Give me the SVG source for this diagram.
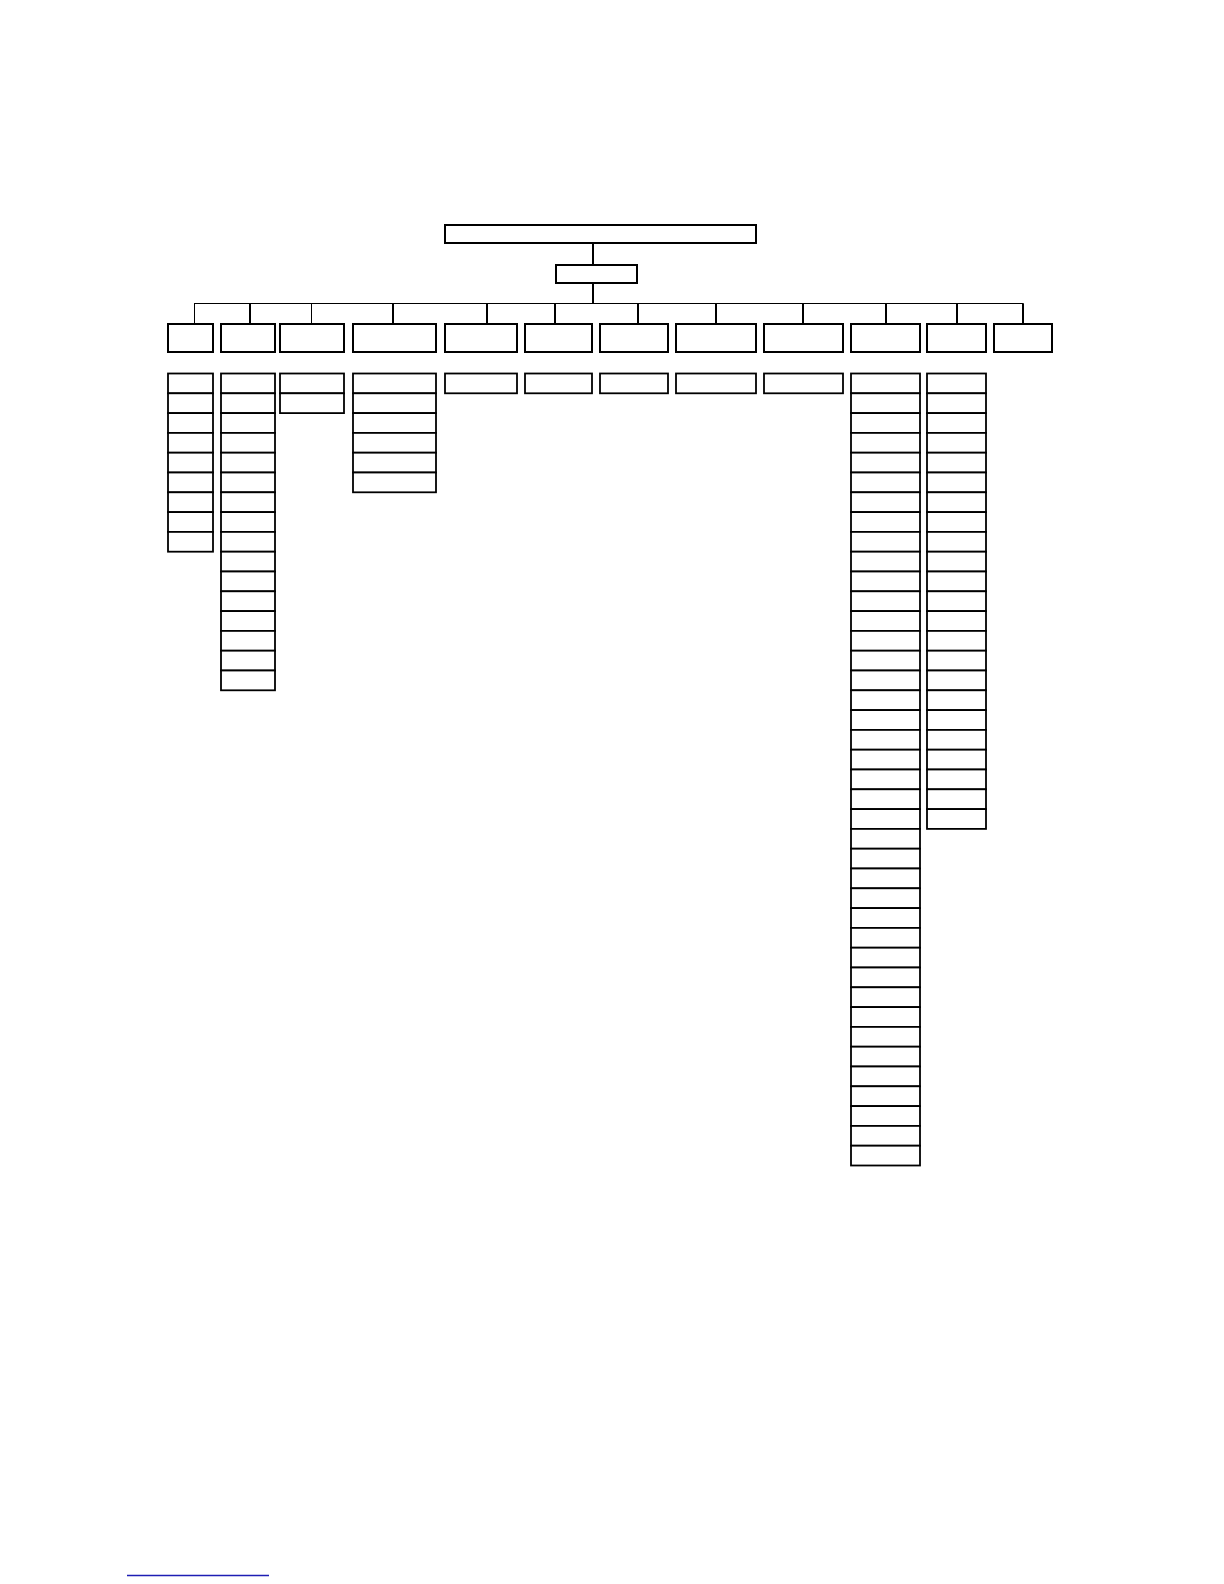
<svg xmlns="http://www.w3.org/2000/svg" width="1224" height="1584" viewBox="0 0 1224 1584">
<style>
rect{fill:#fff;stroke:#000;stroke-width:2}
.c{stroke-width:1.8}
.thin{stroke:#000;stroke-width:1;fill:none}
.thick{stroke:#000;stroke-width:2;fill:none}
</style>
<rect x="0" y="0" width="1224" height="1584" style="stroke:none"/>
<g id="connectors">
<line class="thick" x1="593" y1="243" x2="593" y2="265"/>
<line class="thick" x1="593" y1="283" x2="593" y2="303.5"/>
<line class="thin" x1="194" y1="303.5" x2="1023.5" y2="303.5"/>
<line class="thin" x1="194.5" y1="303.5" x2="194.5" y2="324"/>
<line class="thick" x1="250" y1="303.5" x2="250" y2="324"/>
<line class="thin" x1="311.5" y1="303.5" x2="311.5" y2="324"/>
<line class="thick" x1="393" y1="303.5" x2="393" y2="324"/>
<line class="thick" x1="487" y1="303.5" x2="487" y2="324"/>
<line class="thick" x1="555" y1="303.5" x2="555" y2="324"/>
<line class="thick" x1="638" y1="303.5" x2="638" y2="324"/>
<line class="thick" x1="716" y1="303.5" x2="716" y2="324"/>
<line class="thick" x1="803" y1="303.5" x2="803" y2="324"/>
<line class="thick" x1="886" y1="303.5" x2="886" y2="324"/>
<line class="thick" x1="957" y1="303.5" x2="957" y2="324"/>
<line class="thick" x1="1023" y1="303.5" x2="1023" y2="324"/>
</g>
<g id="root"><rect x="445" y="225" width="311" height="18"/></g>
<g id="sub"><rect x="556" y="265" width="81" height="18"/></g>
<g id="level1">
<g id="n1"><rect x="168" y="324" width="45" height="28"/></g>
<g id="n2"><rect x="221" y="324" width="54" height="28"/></g>
<g id="n3"><rect x="280" y="324" width="64" height="28"/></g>
<g id="n4"><rect x="353" y="324" width="83" height="28"/></g>
<g id="n5"><rect x="445" y="324" width="72" height="28"/></g>
<g id="n6"><rect x="525" y="324" width="67" height="28"/></g>
<g id="n7"><rect x="600" y="324" width="68" height="28"/></g>
<g id="n8"><rect x="676" y="324" width="80" height="28"/></g>
<g id="n9"><rect x="764" y="324" width="79" height="28"/></g>
<g id="n10"><rect x="851" y="324" width="69" height="28"/></g>
<g id="n11"><rect x="927" y="324" width="59" height="28"/></g>
<g id="n12"><rect x="994" y="324" width="58" height="28"/></g>
</g>
<g id="col1">
<rect class="c" x="168" y="373.5" width="45" height="19.8"/>
<rect class="c" x="168" y="393.3" width="45" height="19.8"/>
<rect class="c" x="168" y="413.1" width="45" height="19.8"/>
<rect class="c" x="168" y="432.9" width="45" height="19.8"/>
<rect class="c" x="168" y="452.7" width="45" height="19.8"/>
<rect class="c" x="168" y="472.5" width="45" height="19.8"/>
<rect class="c" x="168" y="492.3" width="45" height="19.8"/>
<rect class="c" x="168" y="512.1" width="45" height="19.8"/>
<rect class="c" x="168" y="531.9" width="45" height="19.8"/>
</g>
<g id="col2">
<rect class="c" x="221" y="373.5" width="54" height="19.8"/>
<rect class="c" x="221" y="393.3" width="54" height="19.8"/>
<rect class="c" x="221" y="413.1" width="54" height="19.8"/>
<rect class="c" x="221" y="432.9" width="54" height="19.8"/>
<rect class="c" x="221" y="452.7" width="54" height="19.8"/>
<rect class="c" x="221" y="472.5" width="54" height="19.8"/>
<rect class="c" x="221" y="492.3" width="54" height="19.8"/>
<rect class="c" x="221" y="512.1" width="54" height="19.8"/>
<rect class="c" x="221" y="531.9" width="54" height="19.8"/>
<rect class="c" x="221" y="551.7" width="54" height="19.8"/>
<rect class="c" x="221" y="571.5" width="54" height="19.8"/>
<rect class="c" x="221" y="591.3" width="54" height="19.8"/>
<rect class="c" x="221" y="611.1" width="54" height="19.8"/>
<rect class="c" x="221" y="630.9" width="54" height="19.8"/>
<rect class="c" x="221" y="650.7" width="54" height="19.8"/>
<rect class="c" x="221" y="670.5" width="54" height="19.8"/>
</g>
<g id="col3">
<rect class="c" x="280" y="373.5" width="64" height="19.8"/>
<rect class="c" x="280" y="393.3" width="64" height="19.8"/>
</g>
<g id="col4">
<rect class="c" x="353" y="373.5" width="83" height="19.8"/>
<rect class="c" x="353" y="393.3" width="83" height="19.8"/>
<rect class="c" x="353" y="413.1" width="83" height="19.8"/>
<rect class="c" x="353" y="432.9" width="83" height="19.8"/>
<rect class="c" x="353" y="452.7" width="83" height="19.8"/>
<rect class="c" x="353" y="472.5" width="83" height="19.8"/>
</g>
<g id="col5"><rect class="c" x="445" y="373.5" width="72" height="19.8"/></g>
<g id="col6"><rect class="c" x="525" y="373.5" width="67" height="19.8"/></g>
<g id="col7"><rect class="c" x="600" y="373.5" width="68" height="19.8"/></g>
<g id="col8"><rect class="c" x="676" y="373.5" width="80" height="19.8"/></g>
<g id="col9"><rect class="c" x="764" y="373.5" width="79" height="19.8"/></g>
<g id="col10">
<rect class="c" x="851" y="373.5" width="69" height="19.8"/>
<rect class="c" x="851" y="393.3" width="69" height="19.8"/>
<rect class="c" x="851" y="413.1" width="69" height="19.8"/>
<rect class="c" x="851" y="432.9" width="69" height="19.8"/>
<rect class="c" x="851" y="452.7" width="69" height="19.8"/>
<rect class="c" x="851" y="472.5" width="69" height="19.8"/>
<rect class="c" x="851" y="492.3" width="69" height="19.8"/>
<rect class="c" x="851" y="512.1" width="69" height="19.8"/>
<rect class="c" x="851" y="531.9" width="69" height="19.8"/>
<rect class="c" x="851" y="551.7" width="69" height="19.8"/>
<rect class="c" x="851" y="571.5" width="69" height="19.8"/>
<rect class="c" x="851" y="591.3" width="69" height="19.8"/>
<rect class="c" x="851" y="611.1" width="69" height="19.8"/>
<rect class="c" x="851" y="630.9" width="69" height="19.8"/>
<rect class="c" x="851" y="650.7" width="69" height="19.8"/>
<rect class="c" x="851" y="670.5" width="69" height="19.8"/>
<rect class="c" x="851" y="690.3" width="69" height="19.8"/>
<rect class="c" x="851" y="710.1" width="69" height="19.8"/>
<rect class="c" x="851" y="729.9" width="69" height="19.8"/>
<rect class="c" x="851" y="749.7" width="69" height="19.8"/>
<rect class="c" x="851" y="769.5" width="69" height="19.8"/>
<rect class="c" x="851" y="789.3" width="69" height="19.8"/>
<rect class="c" x="851" y="809.1" width="69" height="19.8"/>
<rect class="c" x="851" y="828.9" width="69" height="19.8"/>
<rect class="c" x="851" y="848.7" width="69" height="19.8"/>
<rect class="c" x="851" y="868.5" width="69" height="19.8"/>
<rect class="c" x="851" y="888.3" width="69" height="19.8"/>
<rect class="c" x="851" y="908.1" width="69" height="19.8"/>
<rect class="c" x="851" y="927.9" width="69" height="19.8"/>
<rect class="c" x="851" y="947.7" width="69" height="19.8"/>
<rect class="c" x="851" y="967.5" width="69" height="19.8"/>
<rect class="c" x="851" y="987.3" width="69" height="19.8"/>
<rect class="c" x="851" y="1007.1" width="69" height="19.8"/>
<rect class="c" x="851" y="1026.9" width="69" height="19.8"/>
<rect class="c" x="851" y="1046.7" width="69" height="19.8"/>
<rect class="c" x="851" y="1066.5" width="69" height="19.8"/>
<rect class="c" x="851" y="1086.3" width="69" height="19.8"/>
<rect class="c" x="851" y="1106.1" width="69" height="19.8"/>
<rect class="c" x="851" y="1125.9" width="69" height="19.8"/>
<rect class="c" x="851" y="1145.7" width="69" height="19.8"/>
</g>
<g id="col11">
<rect class="c" x="927" y="373.5" width="59" height="19.8"/>
<rect class="c" x="927" y="393.3" width="59" height="19.8"/>
<rect class="c" x="927" y="413.1" width="59" height="19.8"/>
<rect class="c" x="927" y="432.9" width="59" height="19.8"/>
<rect class="c" x="927" y="452.7" width="59" height="19.8"/>
<rect class="c" x="927" y="472.5" width="59" height="19.8"/>
<rect class="c" x="927" y="492.3" width="59" height="19.8"/>
<rect class="c" x="927" y="512.1" width="59" height="19.8"/>
<rect class="c" x="927" y="531.9" width="59" height="19.8"/>
<rect class="c" x="927" y="551.7" width="59" height="19.8"/>
<rect class="c" x="927" y="571.5" width="59" height="19.8"/>
<rect class="c" x="927" y="591.3" width="59" height="19.8"/>
<rect class="c" x="927" y="611.1" width="59" height="19.8"/>
<rect class="c" x="927" y="630.9" width="59" height="19.8"/>
<rect class="c" x="927" y="650.7" width="59" height="19.8"/>
<rect class="c" x="927" y="670.5" width="59" height="19.8"/>
<rect class="c" x="927" y="690.3" width="59" height="19.8"/>
<rect class="c" x="927" y="710.1" width="59" height="19.8"/>
<rect class="c" x="927" y="729.9" width="59" height="19.8"/>
<rect class="c" x="927" y="749.7" width="59" height="19.8"/>
<rect class="c" x="927" y="769.5" width="59" height="19.8"/>
<rect class="c" x="927" y="789.3" width="59" height="19.8"/>
<rect class="c" x="927" y="809.1" width="59" height="19.8"/>
</g>
<line x1="127" y1="1575.5" x2="269" y2="1575.5" stroke="#1e1eb4" stroke-width="1.3"/>
</svg>
